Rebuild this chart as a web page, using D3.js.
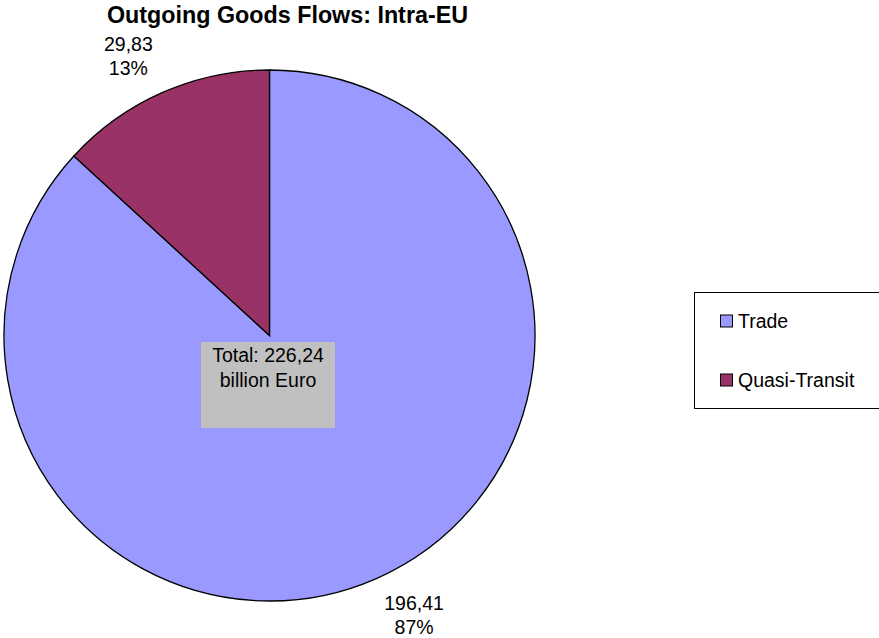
<!DOCTYPE html>
<html><head><meta charset="utf-8">
<script src="https://cdn.jsdelivr.net/npm/d3@7"></script>
<style>body{margin:0;background:#fff}svg{display:block}text{font-family:"Liberation Sans",Arial,sans-serif}</style>
</head><body><svg id="c" width="879" height="638"></svg>
<script>
const categories = ["Trade", "Quasi-Transit"];
const values = [196.41, 29.83];
const percentLabels = ["87%", "13%"];
const valueLabels = ["196,41", "29,83"];
const colors = ["#9999FF", "#993366"];
const title = "Outgoing Goods Flows: Intra-EU";
const totalLines = ["Total: 226,24", "billion Euro"];

const svg = d3.select("#c");
const cx = 269.5, cy = 335.5, R = 265.5;
const fs = 19.5;

svg.append("text").attr("x", 287.5).attr("y", 23).attr("text-anchor", "middle")
  .attr("font-weight", "bold").attr("font-size", 23.3).text(title);

const pie = d3.pie().sort(null).value(d => d)(values);
const arc = d3.arc().innerRadius(0).outerRadius(R);
const g = svg.append("g").attr("transform", `translate(${cx},${cy})`);
g.selectAll("path").data(pie).join("path")
  .attr("d", arc).attr("fill", (d, i) => colors[i])
  .attr("stroke", "#000").attr("stroke-width", 1.3);

// data labels
const labelArc = d3.arc().innerRadius(305).outerRadius(305);
pie.forEach((d, i) => {
  const [x, y] = labelArc.centroid(d);
  const mid = (d.startAngle + d.endAngle) / 2;
  const right = Math.sin(mid) > 0;
  const t = g.append("text").attr("font-size", fs).attr("text-anchor", "middle");
  const t1 = t.append("tspan").text(valueLabels[i]);
  const t2 = t.append("tspan").text(percentLabels[i]);
  const w = Math.max(t1.node().getComputedTextLength(), t2.node().getComputedTextLength());
  const bx = right ? x + w / 2 - 8 : x - w / 2 + 6;
  t1.attr("x", bx).attr("y", y - 5);
  t2.attr("x", bx).attr("y", y + 19);
});

// total box
svg.append("rect").attr("x", 201).attr("y", 342).attr("width", 134).attr("height", 86).attr("fill", "#C0C0C0");
totalLines.forEach((s, i) => {
  svg.append("text").attr("x", 268).attr("y", 362 + i * 25).attr("text-anchor", "middle")
    .attr("font-size", fs).text(s);
});

// legend
svg.append("rect").attr("x", 694.5).attr("y", 292.5).attr("width", 200).attr("height", 116)
  .attr("fill", "#fff").attr("stroke", "#000").attr("stroke-width", 1);
const ly = d3.scalePoint().domain(categories).range([321, 380]);
categories.forEach((c, i) => {
  svg.append("rect").attr("x", 720.5).attr("y", ly(c) - 6).attr("width", 12).attr("height", 12)
    .attr("fill", colors[i]).attr("stroke", "#000").attr("stroke-width", 1);
  svg.append("text").attr("x", 738).attr("y", ly(c) + 7).attr("font-size", fs).text(c);
});
</script></body></html>
